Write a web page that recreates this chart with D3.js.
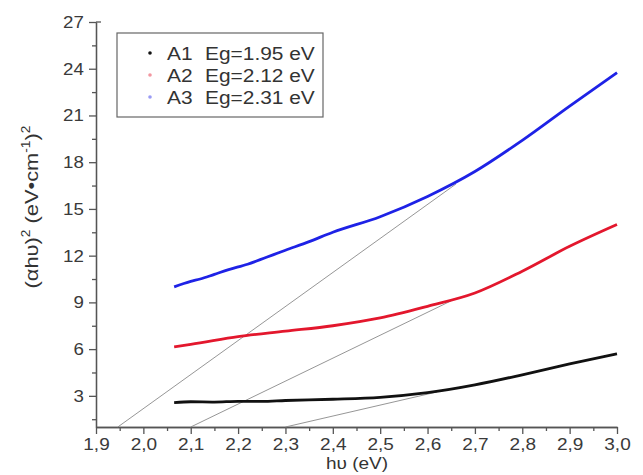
<!DOCTYPE html>
<html lang="en">
<head>
  <meta charset="UTF-8">
  <style>
    body { margin: 0; background: #fff; }
    svg text { font-family: "Liberation Sans", Arial, sans-serif; fill: #333; }
    .axis path, .axis line { stroke: #555; stroke-width: 1.3; }
    .axis text { font-size: 17px; fill: #3a3a3a; }
    .curve { fill: none; stroke-width: 2.8; stroke-linejoin: round; }
    .tangent { stroke: #8a8a8a; stroke-width: 0.9; }
  </style>
  <script src="https://d3js.org/d3.v7.min.js"></script>
</head>
<body>
<svg id="chart"></svg>
<script>

// photon energy (eV) where each curve was sampled
var energyA1 = [2.065, 2.1, 2.15, 2.2, 2.25, 2.3, 2.4, 2.5, 2.6, 2.7, 2.8, 2.9, 3.0];
var valuesA1 = [2.57, 2.62, 2.6, 2.65, 2.64, 2.7, 2.78, 2.9, 3.2, 3.7, 4.35, 5.05, 5.7];

var energyA2 = [2.065, 2.1, 2.2, 2.3, 2.4, 2.5, 2.6, 2.7, 2.8, 2.9, 3.0];
var valuesA2 = [6.15, 6.3, 6.8, 7.15, 7.5, 8.0, 8.75, 9.6, 11.0, 12.6, 14.0];

var energyA3 = [2.065, 2.1, 2.12, 2.15, 2.18, 2.22, 2.26, 2.3, 2.35, 2.4, 2.5, 2.6, 2.7, 2.8, 2.9, 3.0];
var valuesA3 = [10.0, 10.35, 10.5, 10.8, 11.1, 11.45, 11.9, 12.35, 12.9, 13.5, 14.5, 15.8, 17.4, 19.4, 21.6, 23.75];

// linear fits extrapolated to the axis: [x1, y1, x2, y2]
var tangentA1 = [2.30, 1, 2.62, 3.25];
var tangentA2 = [2.10, 1, 2.65, 9.1];
var tangentA3 = [1.946, 1, 2.66, 16.6];

var seriesNames = ['A1', 'A2', 'A3'];
var gapLabels = ['Eg=1.95 eV', 'Eg=2.12 eV', 'Eg=2.31 eV'];
var seriesColors = ['#111', '#e3172d', '#1e22e6'];

var xTicks = [1.9, 2.0, 2.1, 2.2, 2.3, 2.4, 2.5, 2.6, 2.7, 2.8, 2.9, 3.0];
var yTicks = [3, 6, 9, 12, 15, 18, 21, 24, 27];

var width = 643, height = 475;
var svg = d3.select('#chart')
              .attr('width', width)
              .attr('height', height);

var xScale = d3.scaleLinear()
                  .domain([1.9, 3.0])
                  .range([96, 617]);
var yScale = d3.scaleLinear()
                  .domain([1, 27])
                  .range([427, 22]);

var commaFormat = function(d) {
  return d3.format('.1f')(d).replace('.', ',');
};

// minor ticks first, so the major ones sit on top
svg.append('g')
    .attr('class', 'axis')
    .attr('transform', 'translate(0,' + yScale(1) + ')')
    .call(d3.axisBottom(xScale)
              .tickValues(d3.range(1.95, 3.0, 0.1))
              .tickSize(4).tickSizeOuter(0).tickFormat(''));
svg.append('g')
    .attr('class', 'axis')
    .attr('transform', 'translate(' + xScale(1.9) + ',0)')
    .call(d3.axisLeft(yScale)
              .tickValues(d3.range(1.5, 27, 3))
              .tickSize(4).tickSizeOuter(0).tickFormat(''));

var xAxis = svg.append('g')
    .attr('class', 'axis')
    .attr('transform', 'translate(0,' + yScale(1) + ')')
    .call(d3.axisBottom(xScale)
              .tickValues(xTicks)
              .tickSize(7).tickSizeOuter(0)
              .tickPadding(4)
              .tickFormat(commaFormat));

var yAxis = svg.append('g')
    .attr('class', 'axis')
    .attr('transform', 'translate(' + xScale(1.9) + ',0)')
    .call(d3.axisLeft(yScale)
              .tickValues(yTicks)
              .tickSize(7).tickSizeOuter(0)
              .tickPadding(4));

// the source font is drawn a little wide
xAxis.selectAll('text').attr('transform', 'scale(1.12,1)');
yAxis.selectAll('text').attr('transform', 'scale(1.1,1)');

// the top of the y axis gets a small cap to the right
svg.append('line')
    .attr('x1', xScale(1.9)).attr('x2', xScale(1.9) + 5)
    .attr('y1', yScale(27)).attr('y2', yScale(27))
    .attr('stroke', '#555').attr('stroke-width', 1.3);

// tangent lines
[tangentA1, tangentA2, tangentA3].forEach(function(t) {
  svg.append('line')
      .attr('class', 'tangent')
      .attr('x1', xScale(t[0])).attr('y1', yScale(t[1]))
      .attr('x2', xScale(t[2])).attr('y2', yScale(t[3]));
});

var line = d3.line()
              .x(function(d) { return xScale(d[0]); })
              .y(function(d) { return yScale(d[1]); })
              .curve(d3.curveMonotoneX);

var series = [
  d3.zip(energyA1, valuesA1),
  d3.zip(energyA2, valuesA2),
  d3.zip(energyA3, valuesA3)
];

series.forEach(function(s, i) {
  svg.append('path')
      .datum(s)
      .attr('class', 'curve')
      .attr('stroke', seriesColors[i])
      .attr('d', line);
});

// legend
var legend = svg.append('g').attr('transform', 'translate(117,33)');
legend.append('rect')
    .attr('width', 206).attr('height', 84)
    .attr('fill', '#fff')
    .attr('stroke', '#666').attr('stroke-width', 1.2);

var rows = legend.selectAll('.row')
    .data(seriesNames)
    .enter()
    .append('g')
    .attr('class', 'row')
    .attr('transform', function(d, i) { return 'translate(0,' + (20 + i * 22) + ')'; });

rows.append('circle')
    .attr('cx', 33).attr('cy', 0).attr('r', 1.8)
    .attr('fill', function(d, i) { return seriesColors[i]; })
    .attr('opacity', function(d, i) { return i === 0 ? 1 : 0.45; });

rows.append('text')
    .attr('transform', 'translate(50,0) scale(1.1,1)')
    .attr('dy', '0.36em')
    .attr('font-size', 19)
    .text(function(d) { return d; });

rows.append('text')
    .attr('transform', 'translate(88,0) scale(1.1,1)')
    .attr('dy', '0.36em')
    .attr('font-size', 19)
    .text(function(d, i) { return gapLabels[i]; });

// axis titles
svg.append('text')
    .attr('transform', 'translate(357,469) scale(1.12,1)')
    .attr('text-anchor', 'middle')
    .attr('font-size', 17)
    .text('hυ (eV)');

var yTitle = svg.append('text')
    .attr('transform', 'translate(38,207) rotate(-90) scale(1.15,1)')
    .attr('text-anchor', 'middle')
    .attr('font-size', 19);
yTitle.append('tspan').text('(αhυ)');
yTitle.append('tspan').attr('dy', -8).attr('font-size', 12).text('2');
yTitle.append('tspan').attr('dy', 8).text(' (eV•cm');
yTitle.append('tspan').attr('dy', -8).attr('font-size', 12).text('-1');
yTitle.append('tspan').attr('dy', 8).text(')');
yTitle.append('tspan').attr('dy', -8).attr('font-size', 12).text('2');

</script>
</body>
</html>
